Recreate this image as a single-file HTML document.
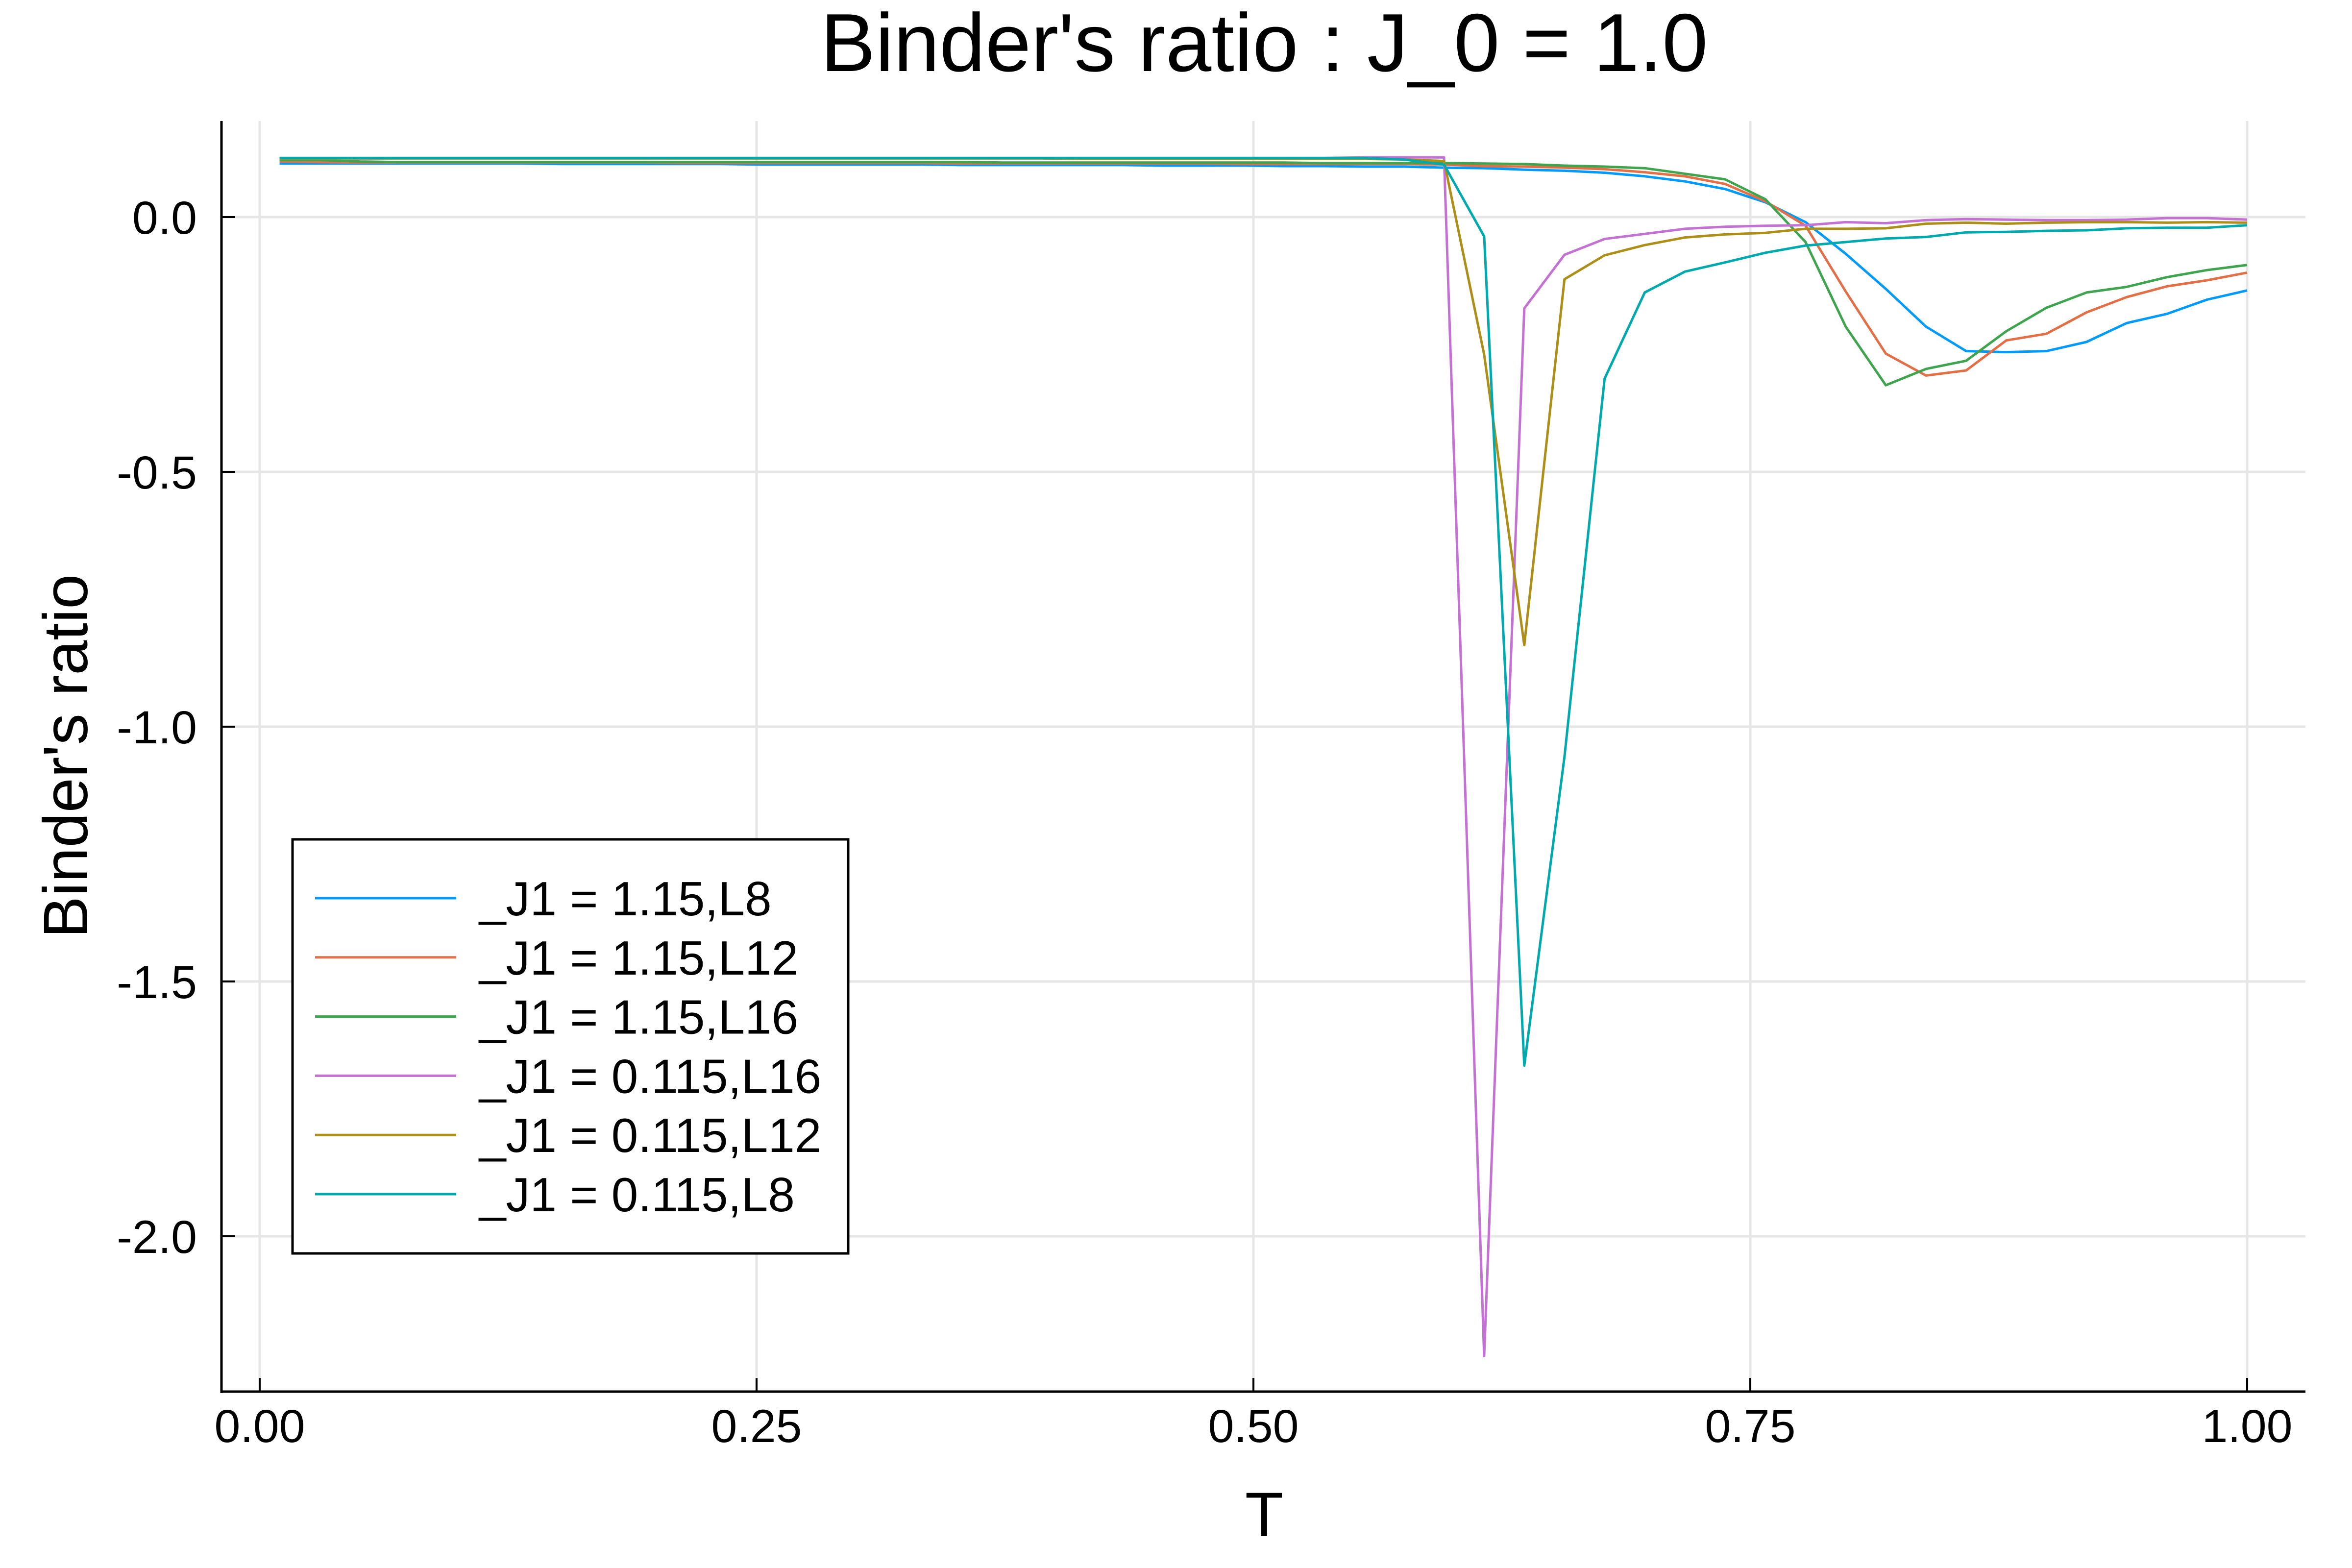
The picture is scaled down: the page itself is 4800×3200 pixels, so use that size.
<!DOCTYPE html>
<html><head><meta charset="utf-8"><style>
html,body{margin:0;padding:0;background:#fff;}
svg{display:block;font-family:"Liberation Sans","DejaVu Sans",sans-serif;}
</style></head><body>
<svg id="chart" width="4800" height="3200" viewBox="0 0 4800 3200" xmlns="http://www.w3.org/2000/svg">
<rect width="4800" height="3200" fill="#fff"/>
<text x="2580" y="145" font-size="168" text-anchor="middle">Binder's ratio : J_0 = 1.0</text>
<g id="grid"></g>
<g id="axes"></g>
<g id="series"></g>
<text x="2580" y="3135" font-size="128" text-anchor="middle">T</text>
<text x="0" y="0" font-size="128" text-anchor="middle" transform="translate(178,1543) rotate(-90)">Binder's ratio</text>
<g id="legend"></g>
</svg>
<script>
const temps = [0.0100,0.0302,0.0504,0.0706,0.0908,0.1110,0.1312,0.1514,0.1716,0.1918,0.2120,0.2322,0.2524,0.2727,0.2929,0.3131,0.3333,0.3535,0.3737,0.3939,0.4141,0.4343,0.4545,0.4747,0.4949,0.5151,0.5353,0.5555,0.5757,0.5959,0.6161,0.6363,0.6565,0.6767,0.6969,0.7171,0.7373,0.7576,0.7778,0.7980,0.8182,0.8384,0.8586,0.8788,0.8990,0.9192,0.9394,0.9596,0.9798,1.0000];
const seriesNames = ["_J1 = 1.15,L8","_J1 = 1.15,L12","_J1 = 1.15,L16","_J1 = 0.115,L16","_J1 = 0.115,L12","_J1 = 0.115,L8"];
const valsL8a = [0.105,0.105,0.105,0.105,0.105,0.105,0.105,0.104,0.104,0.104,0.104,0.104,0.103,0.103,0.103,0.103,0.103,0.102,0.102,0.102,0.102,0.102,0.101,0.101,0.101,0.100,0.100,0.099,0.099,0.097,0.096,0.093,0.091,0.087,0.080,0.070,0.055,0.029,-0.010,-0.072,-0.141,-0.215,-0.263,-0.265,-0.263,-0.245,-0.208,-0.190,-0.162,-0.144];
const valsL12a = [0.109,0.108,0.107,0.107,0.107,0.107,0.107,0.107,0.107,0.107,0.106,0.106,0.106,0.106,0.106,0.106,0.106,0.105,0.105,0.105,0.105,0.105,0.105,0.105,0.104,0.104,0.104,0.104,0.104,0.103,0.100,0.099,0.097,0.094,0.088,0.080,0.065,0.031,-0.017,-0.146,-0.268,-0.311,-0.301,-0.242,-0.229,-0.187,-0.157,-0.136,-0.124,-0.109];
const valsL16a = [0.112,0.112,0.109,0.108,0.108,0.108,0.108,0.108,0.108,0.108,0.108,0.108,0.108,0.108,0.108,0.108,0.108,0.108,0.107,0.107,0.107,0.107,0.107,0.107,0.107,0.107,0.106,0.106,0.106,0.106,0.105,0.104,0.101,0.099,0.096,0.085,0.074,0.035,-0.049,-0.215,-0.330,-0.298,-0.282,-0.224,-0.178,-0.148,-0.137,-0.118,-0.104,-0.094];
const valsL16b = [0.116,0.116,0.116,0.116,0.116,0.116,0.116,0.116,0.116,0.116,0.116,0.116,0.116,0.116,0.116,0.116,0.116,0.116,0.116,0.116,0.116,0.116,0.116,0.116,0.116,0.116,0.116,0.117,0.117,0.117,-2.235,-0.179,-0.074,-0.043,-0.033,-0.023,-0.019,-0.017,-0.016,-0.010,-0.012,-0.006,-0.004,-0.005,-0.006,-0.006,-0.005,-0.002,-0.002,-0.005];
const valsL12b = [0.115,0.115,0.115,0.115,0.115,0.115,0.115,0.115,0.115,0.115,0.115,0.115,0.115,0.115,0.115,0.115,0.115,0.115,0.115,0.115,0.114,0.114,0.114,0.114,0.114,0.114,0.114,0.114,0.113,0.110,-0.270,-0.840,-0.122,-0.075,-0.055,-0.040,-0.034,-0.031,-0.023,-0.023,-0.022,-0.013,-0.011,-0.013,-0.011,-0.010,-0.010,-0.011,-0.010,-0.011];
const valsL8b = [0.116,0.116,0.116,0.116,0.116,0.116,0.116,0.116,0.116,0.116,0.116,0.116,0.116,0.116,0.116,0.116,0.116,0.116,0.116,0.116,0.116,0.116,0.116,0.116,0.116,0.116,0.116,0.116,0.113,0.103,-0.038,-1.665,-1.059,-0.317,-0.148,-0.107,-0.089,-0.070,-0.056,-0.049,-0.042,-0.039,-0.030,-0.029,-0.027,-0.026,-0.022,-0.021,-0.021,-0.016];
const xTicks = [0, 0.25, 0.5, 0.75, 1.0];
const xTickLabels = ["0.00","0.25","0.50","0.75","1.00"];
const yTicks = [0, -0.5, -1.0, -1.5, -2.0];
const yTickLabels = ["0.0","-0.5","-1.0","-1.5","-2.0"];

const NS = "http://www.w3.org/2000/svg";
const allVals = [valsL8a, valsL12a, valsL16a, valsL16b, valsL12b, valsL8b];
const colors = ["#009AFA","#E36F47","#3EA44E","#C371D2","#AC8E18","#00A9AD"];
const X0 = 530, XS = 4056;
const Y0 = 443, YS = 1040;
const L = 452, R = 4705, T = 247, B = 2840;
function xs(v){ return X0 + v * XS; }
function ys(v){ return Y0 - v * YS; }
function mk(tag, attrs, parent){ const e = document.createElementNS(NS, tag); for (const k in attrs) e.setAttribute(k, attrs[k]); parent.appendChild(e); return e; }

const grid = document.getElementById('grid');
xTicks.forEach((t) => {
  const g = mk('line', {x1: xs(t), x2: xs(t), y1: T, y2: B, stroke: '#e6e6e6', 'stroke-width': 5}, grid);
  
  
});
yTicks.forEach((t) => {
  const g = mk('line', {x1: L, x2: R, y1: ys(t), y2: ys(t), stroke: '#e6e6e6', 'stroke-width': 5}, grid);
  
  
});

const axes = document.getElementById('axes');
const ya = mk('line', {x1: L, x2: L, y1: T, y2: B + 3, stroke: '#000', 'stroke-width': 5}, axes);


const xa = mk('line', {x1: L - 2, x2: R, y1: B, y2: B, stroke: '#000', 'stroke-width': 5}, axes);


xTicks.forEach((t, i) => {
  const tk = mk('line', {x1: xs(t), x2: xs(t), y1: B, y2: B - 28, stroke: '#000', 'stroke-width': 4}, axes);
  
  
  const lb = mk('text', {x: xs(t), y: 2943, 'font-size': 95, 'text-anchor': 'middle'}, axes);
  lb.textContent = xTickLabels[i];
  
  
});
yTicks.forEach((t, i) => {
  const tk = mk('line', {x1: L, x2: L + 28, y1: ys(t), y2: ys(t), stroke: '#000', 'stroke-width': 4}, axes);
  
  
  const lb = mk('text', {x: 402, y: ys(t) + 34, 'font-size': 95, 'text-anchor': 'end'}, axes);
  lb.textContent = yTickLabels[i];
  
  
});

const sg = document.getElementById('series');
allVals.forEach((vals, s) => {
  const pts = vals.map((v, i) => xs(temps[i]).toFixed(1) + ',' + ys(v).toFixed(1)).join(' ');
  const pl = mk('polyline', {points: pts, fill: 'none', stroke: colors[s], 'stroke-width': 5, 'stroke-linejoin': 'round'}, sg);
  
  
});

const lg = document.getElementById('legend');
const box = mk('rect', {x: 597, y: 1713, width: 1134, height: 845, fill: '#fff', stroke: '#000', 'stroke-width': 5}, lg);


seriesNames.forEach((n, i) => {
  const yy = 1833 + i * 120.8;
  const ln = mk('line', {x1: 643, x2: 931, y1: yy, y2: yy, stroke: colors[i], 'stroke-width': 5}, lg);
  
  
  const tx = mk('text', {x: 978, y: yy + 35, 'font-size': 98}, lg);
  tx.textContent = n;
  
  
});
</script>
</body></html>
